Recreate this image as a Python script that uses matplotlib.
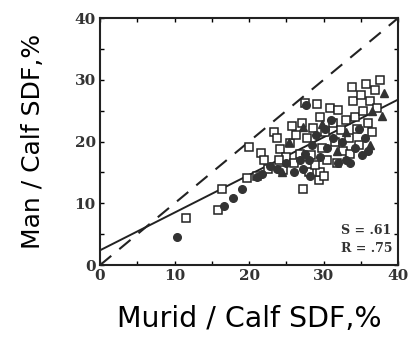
import numpy as np
import matplotlib
matplotlib.use("Agg")
import matplotlib.pyplot as plt
from matplotlib.ticker import MultipleLocator

# murid vs man SDF (% of calf)
sq_x = [11.5, 15.8, 16.4, 19.7, 20.0, 21.6, 22.5, 23.3, 23.8, 24.2, 24.6, 25.0, 25.5, 26.0, 26.3,
        26.8, 27.2, 27.1, 27.5, 27.8, 28.0, 28.3, 28.6, 29.1, 29.4, 29.5, 29.5, 29.8, 30.2, 30.5,
        30.9, 31.2, 31.5, 31.8, 32.0, 32.3, 32.6, 33.0, 33.4, 33.8, 34.0, 34.2, 34.5, 34.8, 35.0,
        35.3, 35.7, 35.9, 36.2, 36.5, 36.9, 37.2, 37.6, 33.5, 30.0, 28.8, 25.8, 24.0, 22.0, 21.0]
sq_y = [7.7, 9.0, 12.3, 14.1, 19.2, 18.2, 15.5, 21.6, 20.5, 18.8, 15.4, 17.5, 19.8, 16.5, 21.0,
        18.0, 12.4, 23.0, 26.2, 20.5, 15.0, 17.8, 22.2, 26.1, 13.8, 15.0, 24.0, 19.0, 21.5, 17.0,
        25.4, 23.0, 20.0, 16.5, 25.1, 21.8, 18.5, 23.5, 20.5, 28.9, 26.5, 24.0, 22.0, 19.5, 27.5,
        25.0, 29.4, 23.0, 26.5, 21.5, 28.4, 25.5, 30.0, 18.0, 14.5, 16.2, 22.5, 17.0, 17.0, 14.5]

ci_x = [10.3, 16.6, 17.9, 19.1, 21.0, 21.8, 22.8, 23.8, 25.0, 26.0, 26.8, 27.2, 27.7, 27.5, 28.0,
        28.5, 29.0, 29.5, 30.2, 30.5, 31.2, 32.0, 32.5, 33.0, 33.5, 34.2, 34.8, 35.5, 36.0, 35.2,
        31.0, 28.2]
ci_y = [4.5, 9.6, 10.9, 12.4, 14.3, 14.8, 16.0, 15.5, 16.5, 15.0, 17.0, 15.5, 26.0, 18.0, 17.0,
        19.5, 21.0, 17.5, 22.0, 19.0, 20.5, 16.5, 20.0, 17.0, 16.5, 19.0, 22.0, 20.5, 18.5, 17.8,
        23.5, 14.5]

tr_x = [38.1, 37.9, 36.2, 25.3, 24.4, 31.8, 27.3, 29.8, 33.0, 36.5]
tr_y = [27.9, 24.1, 19.5, 20.0, 15.1, 18.4, 22.4, 22.8, 21.5, 25.0]

slope = 0.61
intercept = 2.4

fig = plt.figure(figsize=(4.1, 3.47), dpi=100)
ax = fig.add_axes([0.244, 0.236, 0.727, 0.712])

ax.plot(sq_x, sq_y, 's', ms=6, mfc='white', mec='#222222', mew=1.1, zorder=3)
ax.plot(ci_x, ci_y, 'o', ms=5.5, color='#333333', zorder=4)
ax.plot(tr_x, tr_y, '^', ms=6, color='#333333', zorder=4)

xs = np.array([0, 40])
ax.plot(xs, xs, color='#222222', lw=1.5, dashes=(7, 5))
ax.plot(xs, intercept + slope * xs, color='#222222', lw=1.4)

ax.text(32.3, 5.0, 'S = .61', fontsize=9, family='DejaVu Serif', weight='bold', color='#333333')
ax.text(32.3, 2.2, 'R = .75', fontsize=9, family='DejaVu Serif', weight='bold', color='#333333')

ax.set_xlim(0, 40)
ax.set_ylim(0, 40)
ax.xaxis.set_major_locator(MultipleLocator(10))
ax.yaxis.set_major_locator(MultipleLocator(10))
ax.xaxis.set_minor_locator(MultipleLocator(5))
ax.yaxis.set_minor_locator(MultipleLocator(5))
ax.tick_params(which='both', direction='in', top=True, right=True, length=3, width=1)
ax.tick_params(which='major', labelsize=11, pad=3)
for lab in ax.get_xticklabels() + ax.get_yticklabels():
    lab.set_family('DejaVu Serif')
    lab.set_fontweight('bold')
    lab.set_color('#333333')
for s in ax.spines.values():
    s.set_linewidth(1.5)
    s.set_color('#222222')

ax.set_xlabel('Murid / Calf SDF,%', fontsize=20.5, labelpad=16)
ax.set_ylabel('Man / Calf SDF,%', fontsize=18, labelpad=21)

fig.savefig('out.png', dpi=100)
